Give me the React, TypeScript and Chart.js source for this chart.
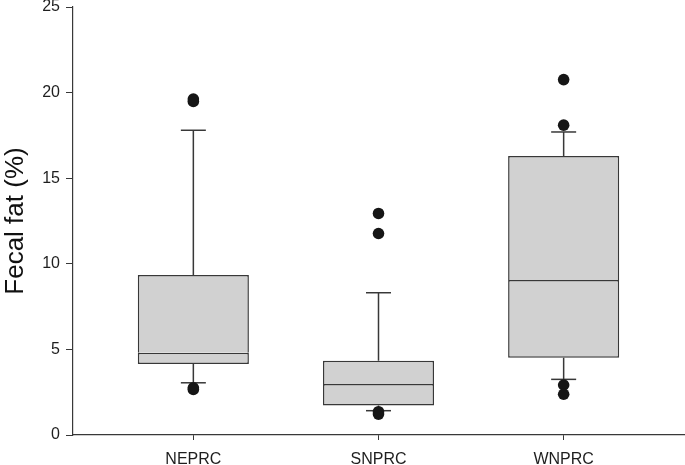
import React, { useEffect, useRef } from "react";
import { Chart, registerables } from "chart.js";

Chart.register(...registerables);

const categories = ["NEPRC", "SNPRC", "WNPRC"];
const q1 = [4.14, 1.73, 4.51];
const median = [4.8, 2.98, 9.05];
const q3 = [9.34, 4.34, 16.29];
const whiskerLow = [3.05, 1.42, 3.25];
const whiskerHigh = [17.8, 8.31, 17.7];
const outliersNEPRC = [19.48, 19.62, 2.66, 2.76];
const outliersSNPRC = [12.94, 11.77, 1.22, 1.36];
const outliersWNPRC = [20.76, 18.1, 2.92, 2.38];
const yTicks = [0, 5, 10, 15, 20, 25];

const FONT = "'Liberation Sans', Arial, Helvetica, sans-serif";
const EDGE = "#383838";
const FILL = "#d1d1d1";
const DOT = "#161616";

export default function App() {
  const ref = useRef<HTMLCanvasElement | null>(null);

  useEffect(() => {
    if (!ref.current) return;
    const outlierSets = [outliersNEPRC, outliersSNPRC, outliersWNPRC];
    const outlierData: { x: number; y: number }[] = [];
    outlierSets.forEach((arr, i) => arr.forEach((v) => outlierData.push({ x: i, y: v })));

    const whiskerData: { x: number; y: number | null }[] = [];
    categories.forEach((_, i) => {
      whiskerData.push({ x: i, y: q3[i] }, { x: i, y: whiskerHigh[i] }, { x: i, y: null });
      whiskerData.push({ x: i, y: q1[i] }, { x: i, y: whiskerLow[i] }, { x: i, y: null });
    });

    const capData: { x: number; y: number }[] = [];
    categories.forEach((_, i) => {
      capData.push({ x: i, y: whiskerHigh[i] }, { x: i, y: whiskerLow[i] });
    });

    const chart = new Chart(ref.current, {
      type: "scatter",
      data: {
        datasets: [
          {
            type: "bar",
            data: categories.map((_, i) => ({ x: i, y: [q1[i], median[i]] })) as any,
            backgroundColor: FILL,
            borderColor: EDGE,
            borderWidth: 1.5,
            borderSkipped: false,
            grouped: false,
            barPercentage: 0.6,
            categoryPercentage: 1,
            order: 4,
          } as any,
          {
            type: "bar",
            data: categories.map((_, i) => ({ x: i, y: [median[i], q3[i]] })) as any,
            backgroundColor: FILL,
            borderColor: EDGE,
            borderWidth: { top: 1.5, left: 1.5, right: 1.5, bottom: 0 },
            borderSkipped: false,
            grouped: false,
            barPercentage: 0.6,
            categoryPercentage: 1,
            order: 3,
          } as any,
          {
            type: "scatter",
            data: whiskerData as any,
            showLine: true,
            spanGaps: false,
            borderColor: EDGE,
            borderWidth: 1.5,
            pointRadius: 0,
            order: 2,
          } as any,
          {
            type: "scatter",
            data: capData,
            pointStyle: "line",
            pointRadius: 12.5,
            borderColor: EDGE,
            borderWidth: 1.5,
            order: 1,
          } as any,
          {
            type: "scatter",
            data: outlierData,
            pointStyle: "circle",
            pointRadius: 5.8,
            backgroundColor: DOT,
            borderColor: DOT,
            borderWidth: 0,
            clip: false,
            order: 0,
          } as any,
        ],
      },
      options: {
        animation: false,
        responsive: false,
        devicePixelRatio: 1,
        layout: { autoPadding: false, padding: { top: 7, right: 1, left: 0, bottom: 0 } },
        plugins: { legend: { display: false }, tooltip: { enabled: false } },
        scales: {
          x: {
            type: "linear",
            min: -0.65,
            max: 2.65,
            offset: false,
            afterBuildTicks: (scale: any) => {
              scale.ticks = categories.map((_, i) => ({ value: i }));
            },
            afterFit: (scale: any) => {
              scale.height = 30;
              scale.paddingLeft = 0;
              scale.paddingRight = 0;
            },
            ticks: {
              callback: (_v: any, i: number) => categories[i],
              font: { family: FONT, size: 16 },
              color: "#1e1e1e",
              padding: 10,
              maxRotation: 0,
              autoSkip: false,
            },
            grid: { offset: false, drawOnChartArea: false, drawTicks: true, tickLength: 5, color: EDGE, lineWidth: 1 },
            border: { display: true, color: EDGE, width: 1.2 },
          },
          y: {
            type: "linear",
            min: 0,
            max: 25,
            afterBuildTicks: (scale: any) => {
              scale.ticks = yTicks.map((v) => ({ value: v }));
            },
            afterFit: (scale: any) => {
              scale.width = 73;
              scale.paddingTop = 0;
              scale.paddingBottom = 0;
            },
            ticks: {
              font: { family: FONT, size: 16 },
              color: "#1e1e1e",
              padding: 6,
            },
            grid: { drawOnChartArea: false, drawTicks: true, tickLength: 7, color: EDGE, lineWidth: 1 },
            border: { display: true, color: EDGE, width: 1.2 },
            title: {
              display: true,
              text: "Fecal fat (%)",
              font: { family: FONT, size: 26 },
              color: "#111111",
              padding: 0,
            },
          },
        },
      },
    });
    return () => chart.destroy();
  }, []);

  return (
    <div style={{ position: "absolute", left: 0, top: 0, width: 685, height: 465, background: "#ffffff" }}>
      <canvas ref={ref} width={685} height={465} style={{ display: "block" }} />
    </div>
  );
}
